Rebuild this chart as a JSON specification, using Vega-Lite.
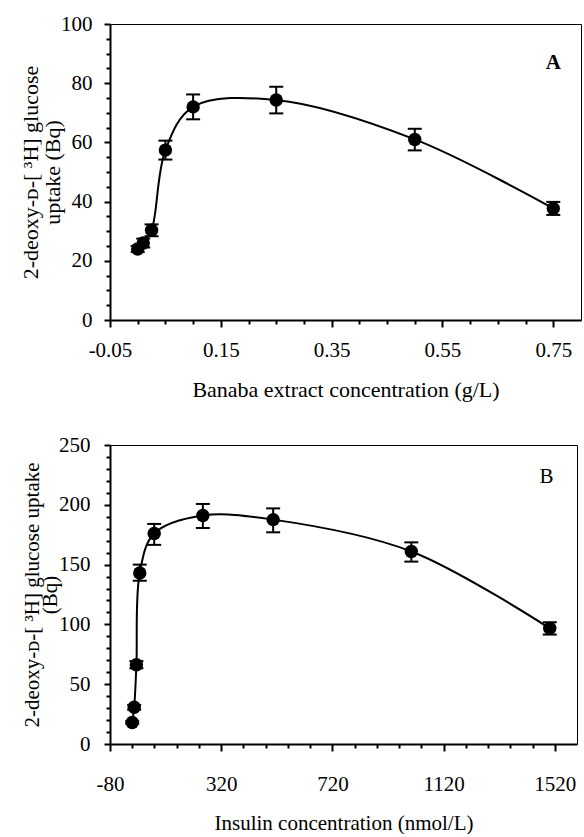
{
  "$schema": "https://vega.github.io/schema/vega-lite/v6.json",
  "background": "white",
  "padding": {"left": 19, "top": 12, "right": 5, "bottom": 0},
  "spacing": 32,
  "config": {
    "font": "Liberation Serif",
    "view": {"stroke": "black", "strokeWidth": 1},
    "axis": {
      "labelFont": "Liberation Serif", "labelFontSize": 21, "labelColor": "black",
      "titleFont": "Liberation Serif", "titleFontSize": 22, "titleFontWeight": "normal", "titleColor": "black",
      "domainColor": "black", "domainWidth": 2, "tickColor": "black", "tickWidth": 2, "grid": false,
      "labelOverlap": false, "labelFlush": false
    }
  },
  "vconcat": [
    {
      "width": 471,
      "height": 296,
      "data": {"values": [
        {"c": 0, "u": 24, "lo": 23, "hi": 25},
        {"c": 0.01, "u": 26, "lo": 24.5, "hi": 27.5},
        {"c": 0.025, "u": 30.3, "lo": 28.3, "hi": 32.3},
        {"c": 0.05, "u": 57.4, "lo": 54.2, "hi": 60.6},
        {"c": 0.1, "u": 72, "lo": 67.8, "hi": 76.2},
        {"c": 0.25, "u": 74.3, "lo": 69.8, "hi": 78.8},
        {"c": 0.5, "u": 61, "lo": 57.3, "hi": 64.6},
        {"c": 0.75, "u": 37.7, "lo": 35.5, "hi": 39.9}
      ]},
      "encoding": {
        "x": {"field": "c", "type": "quantitative", "scale": {"domain": [-0.05, 0.8], "nice": false, "zero": false},
          "axis": {"orient": "bottom",
            "values": [-0.05, 0, 0.05, 0.1, 0.15, 0.2, 0.25, 0.3, 0.35, 0.4, 0.45, 0.5, 0.55, 0.6, 0.65, 0.7, 0.75],
            "labelExpr": "indexof([-0.05, 0.15, 0.35, 0.55, 0.75], datum.value) >= 0 ? (datum.value < 0 ? '-' + format(-datum.value, '.2f') : format(datum.value, '.2f')) : ''",
            "tickSize": {"condition": {"test": "indexof([-0.05, 0.15, 0.35, 0.55, 0.75], datum.value) >= 0", "value": 7}, "value": 4},
            "labelPadding": 12, "title": "Banaba extract concentration (g/L)", "titlePadding": 19}},
        "y": {"field": "u", "type": "quantitative", "scale": {"domain": [0, 100], "nice": false},
          "axis": {"orient": "left",
            "values": [0, 5, 10, 15, 20, 25, 30, 35, 40, 45, 50, 55, 60, 65, 70, 75, 80, 85, 90, 95, 100],
            "labelExpr": "datum.value % 20 == 0 ? datum.label : ''",
            "tickSize": {"condition": {"test": "datum.value % 20 == 0", "value": 6}, "value": 4},
            "labelPadding": 12, "title": ["2-deoxy-ᴅ-[ ³H] glucose", "uptake (Bq)"], "titlePadding": -4, "titleLineHeight": 22}}
      },
      "layer": [
        {"mark": {"type": "line", "interpolate": "catmull-rom", "color": "black", "strokeWidth": 2}},
        {
          "mark": {"type": "rule", "color": "black", "strokeWidth": 2},
          "encoding": {"y": {"field": "lo", "type": "quantitative"}, "y2": {"field": "hi"}}
        },
        {
          "mark": {"type": "tick", "orient": "horizontal", "color": "black", "opacity": 1, "size": 14, "thickness": 2},
          "encoding": {"y": {"field": "lo", "type": "quantitative"}}
        },
        {
          "mark": {"type": "tick", "orient": "horizontal", "color": "black", "opacity": 1, "size": 14, "thickness": 2},
          "encoding": {"y": {"field": "hi", "type": "quantitative"}}
        },
        {"mark": {"type": "circle", "color": "black", "opacity": 1, "size": 180}},
        {
          "data": {"values": [{"c": 0.75, "u": 86.8, "lab": "A"}]},
          "mark": {"type": "text", "font": "Liberation Serif", "fontSize": 21, "fontWeight": "bold", "color": "black"},
          "encoding": {"text": {"field": "lab"}}
        }
      ]
    },
    {
      "width": 467,
      "height": 299,
      "data": {"values": [
        {"c": 0, "u": 18, "lo": 17, "hi": 19},
        {"c": 7, "u": 30.7, "lo": 28.7, "hi": 32.7},
        {"c": 15, "u": 66.3, "lo": 63.3, "hi": 69.3},
        {"c": 27, "u": 143, "lo": 136.5, "hi": 150},
        {"c": 79, "u": 176, "lo": 166.5, "hi": 184},
        {"c": 254, "u": 191, "lo": 180.6, "hi": 200.7},
        {"c": 507, "u": 187.6, "lo": 177, "hi": 197},
        {"c": 1004, "u": 161, "lo": 152.5, "hi": 168.6},
        {"c": 1502, "u": 96.7, "lo": 91.5, "hi": 101.8}
      ]},
      "encoding": {
        "x": {"field": "c", "type": "quantitative", "scale": {"domain": [-80, 1600], "nice": false, "zero": false},
          "axis": {"orient": "bottom",
            "values": [-80, 0, 80, 160, 240, 320, 400, 480, 560, 640, 720, 800, 880, 960, 1040, 1120, 1200, 1280, 1360, 1440, 1520],
            "labelExpr": "(datum.value + 80) % 400 == 0 ? (datum.value < 0 ? '-' + format(-datum.value, 'd') : format(datum.value, 'd')) : ''",
            "tickSize": {"condition": {"test": "(datum.value + 80) % 400 == 0", "value": 7}, "value": 4},
            "labelPadding": 22, "title": "Insulin concentration (nmol/L)", "titleFontSize": 21, "titlePadding": 18}},
        "y": {"field": "u", "type": "quantitative", "scale": {"domain": [0, 250], "nice": false},
          "axis": {"orient": "left",
            "values": [0, 10, 20, 30, 40, 50, 60, 70, 80, 90, 100, 110, 120, 130, 140, 150, 160, 170, 180, 190, 200, 210, 220, 230, 240, 250],
            "labelExpr": "datum.value % 50 == 0 ? datum.label : ''",
            "tickSize": {"condition": {"test": "datum.value % 50 == 0", "value": 6}, "value": 4},
            "labelPadding": 14, "title": ["2-deoxy-ᴅ-[ ³H] glucose uptake", "(Bq)"], "titleFontSize": 21, "titlePadding": -2, "titleLineHeight": 18}}
      },
      "layer": [
        {"mark": {"type": "line", "interpolate": "catmull-rom", "color": "black", "strokeWidth": 2}},
        {
          "mark": {"type": "rule", "color": "black", "strokeWidth": 2},
          "encoding": {"y": {"field": "lo", "type": "quantitative"}, "y2": {"field": "hi"}}
        },
        {
          "mark": {"type": "tick", "orient": "horizontal", "color": "black", "opacity": 1, "size": 14, "thickness": 2},
          "encoding": {"y": {"field": "lo", "type": "quantitative"}}
        },
        {
          "mark": {"type": "tick", "orient": "horizontal", "color": "black", "opacity": 1, "size": 14, "thickness": 2},
          "encoding": {"y": {"field": "hi", "type": "quantitative"}}
        },
        {"mark": {"type": "circle", "color": "black", "opacity": 1, "size": 180}},
        {
          "data": {"values": [{"c": 1490, "u": 223, "lab": "B"}]},
          "mark": {"type": "text", "font": "Liberation Serif", "fontSize": 21, "fontWeight": "normal", "color": "black"},
          "encoding": {"text": {"field": "lab"}}
        }
      ]
    }
  ]
}
